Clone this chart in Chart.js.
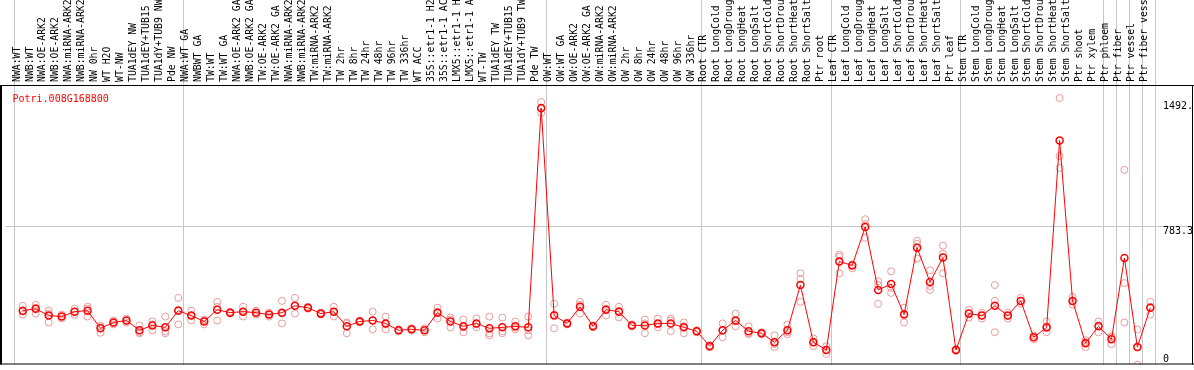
<!DOCTYPE html>
<html><head><meta charset="utf-8">
<script src="https://cdn.jsdelivr.net/npm/chart.js@4/dist/chart.umd.min.js"></script>
<style>html,body{margin:0;padding:0;background:#fff;overflow:hidden}canvas{display:block}</style>
</head><body>
<canvas id="c" width="1194" height="370"></canvas>
<script>
const chartTitle = "Potri.008G168800";
const categories = [
"NWA:WT","NWB:WT","NWA:OE-ARK2","NWB:OE-ARK2","NWA:miRNA-ARK2","NWB:miRNA-ARK2","NW 0hr","WT H2O","WT-NW","TUA1dEY NW","TUA1dEY+TUB15 NW","TUA1dY+TUB9 NW","Pde NW",
"NWA:WT GA","NWBWT GA","TW:WT","TW:WT GA","NWA:OE-ARK2 GA","NWB:OE-ARK2 GA","TW:OE-ARK2","TW:OE-ARK2 GA","NWA:miRNA-ARK2","NWB:miRNA-ARK2","TW:miRNA-ARK2","TW:miRNA-ARK2","TW 2hr","TW 8hr","TW 24hr","TW 48hr","TW 96hr","TW 336hr","WT ACC","35S::etr1-1 H2O","35S::etr1-1 ACC","LMX5::etr1-1 H2O","LMX5::etr1-1 ACC","WT-TW","TUA1dEY TW","TUA1dEY+TUB15 TW","TUA1dY+TUB9 TW","Pde TW",
"OW:WT","OW:WT GA","OW:OE-ARK2","OW:OE-ARK2 GA","OW:miRNA-ARK2","OW:miRNA-ARK2","OW 2hr","OW 8hr","OW 24hr","OW 48hr","OW 96hr","OW 336hr",
"Root CTR","Root LongCold","Root LongDrought","Root LongHeat","Root LongSalt","Root ShortCold","Root ShortDrought","Root ShortHeat","Root ShortSalt","Ptr root",
"Leaf CTR","Leaf LongCold","Leaf LongDrought","Leaf LongHeat","Leaf LongSalt","Leaf ShortCold","Leaf ShortDrought","Leaf ShortHeat","Leaf ShortSalt","Ptr leaf",
"Stem CTR","Stem LongCold","Stem LongDrought","Stem LongHeat","Stem LongSalt","Stem ShortCold","Stem ShortDrought","Stem ShortHeat","Stem ShortSalt","Ptr shoot",
"Ptr xylem","Ptr phloem","Ptr fiber","Ptr vessel","Ptr fiber vessel"
];
const meanValues = [
265,277,235,229,259,265,157,193,205,145,175,163,265,
235,199,271,253,259,253,241,253,295,283,247,259,169,199,205,187,145,151,145,253,199,169,187,157,163,169,163,1506,
235,187,289,169,271,259,175,175,187,187,163,139,
48,145,205,139,127,72,145,422,72,24,
566,542,777,392,428,241,651,440,590,24,
247,235,295,235,325,102,163,1307,325,66,
169,90,588,42,283
];
const rep1 = [
295,301,265,241,277,289,169,205,217,175,199,229,343,
265,211,319,259,289,265,253,325,343,289,253,289,187,205,259,229,151,157,157,283,223,211,217,229,223,199,229,1543,
307,193,319,175,301,289,181,211,217,217,193,145,
54,187,247,169,133,114,181,494,96,48,
608,548,825,446,506,283,693,512,663,30,
271,253,422,253,343,114,199,1567,349,84,
199,108,1127,151,319
];
const rep2 = [
259,283,247,229,259,277,172,193,205,133,181,139,271,
235,205,289,253,259,253,241,247,295,283,247,259,193,199,205,181,145,151,145,259,211,163,181,127,139,163,145,1500,
241,187,301,169,277,265,175,187,181,205,169,139,
48,145,199,127,127,60,133,458,72,24,
596,542,795,422,404,247,675,416,614,24,
247,235,325,235,325,102,157,1211,325,72,
175,102,434,42,289
];
const rep3 = [
241,247,193,217,241,229,130,181,193,127,145,127,181,
205,181,205,247,229,241,229,187,247,277,241,229,127,193,151,151,139,145,133,217,163,133,163,114,127,151,114,1476,
157,181,247,163,235,223,169,127,163,139,127,133,
42,102,169,121,121,42,121,319,48,0,
494,524,711,307,374,193,584,392,494,18,
223,217,133,217,307,90,133,1139,301,42,
133,60,193,-66,241
];
const groupEnds = [-1,12,40,52,62,72,83,84,85,86,87];
const yTickValues = [0, 783.3, 1547];
const yTickLabels = ["0", "783.3", "1492."];

const toXY = arr => arr.map((v, i) => ({x: i, y: v}));
const PINK = '#e99a9a';
const RED = '#ff0000';
const GRID = '#c6c6c6';
const X_MIN = -1.3308, X_MAX = 87.977;

const repDs = (arr, name) => ({
  label: name, data: toXY(arr), showLine: false,
  pointRadius: 3.5, pointBorderWidth: 1, pointBorderColor: PINK,
  pointBackgroundColor: 'rgba(0,0,0,0)', borderColor: PINK
});

const framePlugin = {
  id: 'frame',
  afterDraw(chart) {
    const {ctx, chartArea: a, width} = chart;
    ctx.save();
    ctx.fillStyle = '#000';
    ctx.fillRect(0, a.top, width, 1);
    ctx.fillRect(0, a.bottom - 1, width, 1);
    ctx.fillRect(0, a.top, 2, a.bottom - a.top);
    ctx.fillRect(width - 2, a.top, 1, a.bottom - a.top);
    ctx.font = '10px "DejaVu Sans Mono"';
    ctx.fillStyle = RED;
    ctx.textBaseline = 'alphabetic';
    ctx.textAlign = 'left';
    ctx.fillText(chartTitle, a.left + 7, a.top + 17);
    ctx.restore();
  }
};

new Chart(document.getElementById('c'), {
  type: 'line',
  data: {
    datasets: [
      {label: 'mean', data: toXY(meanValues), borderColor: RED, borderWidth: 1,
       pointRadius: 3.5, pointBorderWidth: 1.5, pointBorderColor: RED,
       pointBackgroundColor: 'rgba(0,0,0,0)', tension: 0},
      repDs(rep1, 'rep1'), repDs(rep2, 'rep2'), repDs(rep3, 'rep3')
    ]
  },
  options: {
    responsive: false, animation: false, devicePixelRatio: 1,
    layout: {padding: {left: 2, right: 0, top: 0, bottom: 1}},
    plugins: {legend: {display: false}, tooltip: {enabled: false}, title: {display: false}},
    scales: {
      x: {
        type: 'linear', position: 'top', weight: 1, min: X_MIN, max: X_MAX,
        grid: {display: false, drawTicks: false}, border: {display: false},
        afterBuildTicks: s => { s.ticks = categories.map((_, i) => ({value: i})); },
        afterFit: s => { s.height = 85; },
        ticks: {
          autoSkip: false, minRotation: 90, maxRotation: 90, padding: 3, labelOffset: 6,
          color: '#000', font: {family: '"DejaVu Sans Mono", monospace', size: 9.8},
          callback: (v, i) => categories[i]
        }
      },
      x2: {
        type: 'linear', position: 'top', weight: 0, min: X_MIN, max: X_MAX,
        afterBuildTicks: s => { s.ticks = groupEnds.map(g => ({value: g + 5 / 13})); },
        afterFit: s => { s.height = 0; },
        grid: {color: GRID, tickColor: GRID, drawTicks: true, tickLength: 85, lineWidth: 1},
        border: {display: false},
        ticks: {display: false}
      },
      y: {
        type: 'linear', position: 'right', min: -64.5, max: 1646.8,
        afterBuildTicks: s => { s.ticks = yTickValues.map(v => ({value: v})); },
        afterFit: s => { s.width = 31; },
        grid: {drawTicks: true, tickLength: 29,
               color: c => (c.tick && c.tick.value === 783.3) ? GRID : 'rgba(0,0,0,0)'},
        border: {display: false},
        ticks: {
          padding: -29, labelOffset: 5.5, color: '#000', autoSkip: false,
          font: {family: '"DejaVu Sans Mono", monospace', size: 10},
          callback: (v, i) => yTickLabels[i]
        }
      }
    }
  },
  plugins: [framePlugin]
});
</script>
</body></html>
